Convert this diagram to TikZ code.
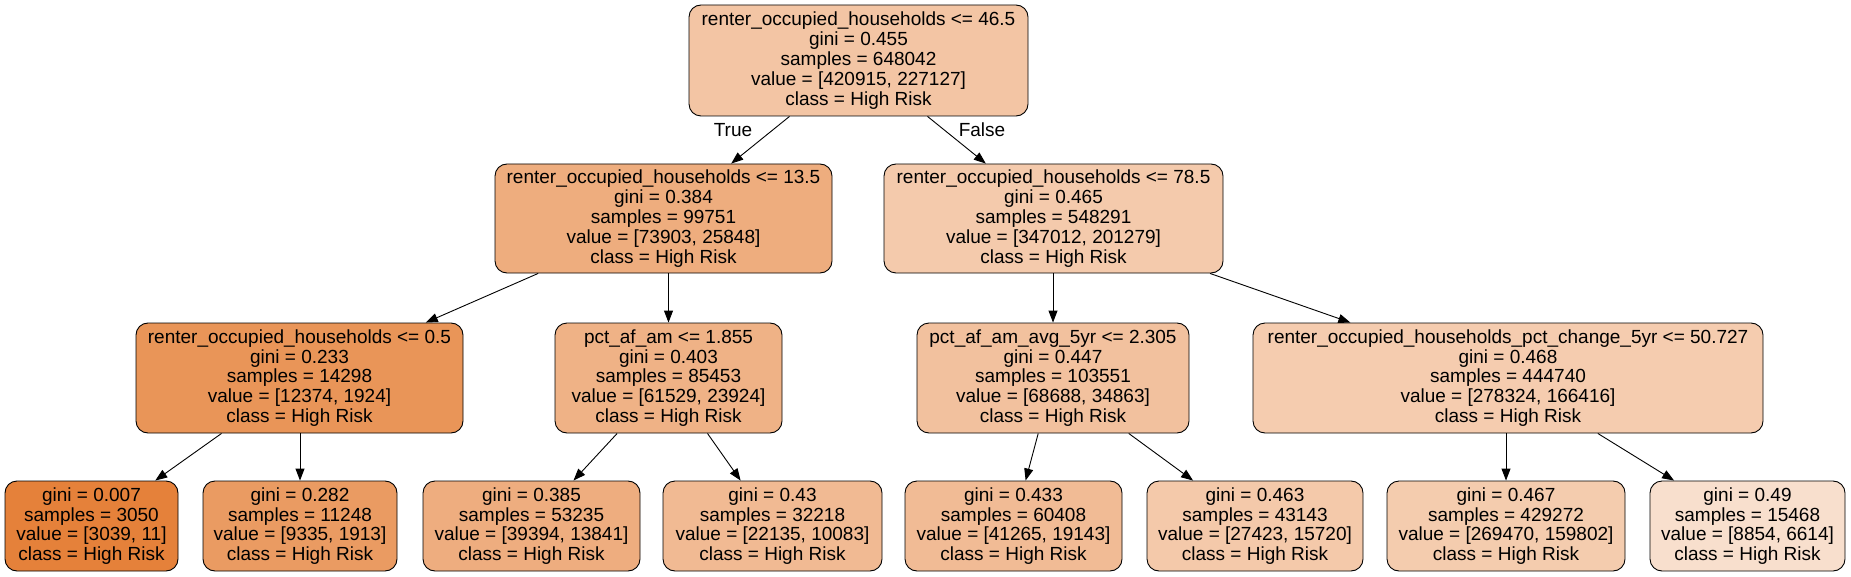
\documentclass[tikz,border=0pt]{standalone}
\usepackage{fontspec}
\setmainfont{Liberation Sans}
\usetikzlibrary{arrows.meta}
\definecolor{rootc}{HTML}{F3C5A4}
\definecolor{lc}{HTML}{EEAD7E}
\definecolor{rc}{HTML}{F4CAAC}
\definecolor{llc}{HTML}{E99558}
\definecolor{lrc}{HTML}{EFB286}
\definecolor{rlc}{HTML}{F2C19E}
\definecolor{rrc}{HTML}{F5CCAF}
\definecolor{lllc}{HTML}{E5813A}
\definecolor{llrc}{HTML}{EA9B62}
\definecolor{lrlc}{HTML}{EEAD7F}
\definecolor{lrrc}{HTML}{F1BA93}
\definecolor{rllc}{HTML}{F1BB95}
\definecolor{rlrc}{HTML}{F4C9AA}
\definecolor{rrlc}{HTML}{F4CCAE}
\definecolor{rrrc}{HTML}{F8DFCD}

\begin{document}
\begin{tikzpicture}[
  x=1pt, y=-1pt,
  box/.style={draw, rounded corners=12pt, line width=0.9pt, align=center, inner sep=0pt, font=\fontsize{19}{19.8}\selectfont, minimum height=110pt},
  leaf/.style={box, minimum height=90pt},
  edgelabel/.style={font=\fontsize{19}{19.8}\selectfont, inner sep=0pt},
  arrow/.style={-{Triangle[length=12pt,width=9pt]}, line width=0.9pt}
]
\useasboundingbox (0,0) rectangle (1851,577);
\node[box, fill=rootc, minimum width=339pt, minimum height=111pt] (root) at (858.5,60.5) {renter\_occupied\_households <= 46.5\\gini = 0.455\\samples = 648042\\value = [420915, 227127]\\class = High Risk};
\node[box, fill=lc, minimum width=337pt, minimum height=109pt] (l) at (663.5,218.5) {renter\_occupied\_households <= 13.5\\gini = 0.384\\samples = 99751\\value = [73903, 25848]\\class = High Risk};
\node[box, fill=rc, minimum width=339pt, minimum height=109pt] (r) at (1053.5,218.5) {renter\_occupied\_households <= 78.5\\gini = 0.465\\samples = 548291\\value = [347012, 201279]\\class = High Risk};
\node[box, fill=llc, minimum width=327pt] (ll) at (299.5,378) {renter\_occupied\_households <= 0.5\\gini = 0.233\\samples = 14298\\value = [12374, 1924]\\class = High Risk};
\node[box, fill=lrc, minimum width=227pt] (lr) at (668.5,378) {pct\_af\_am <= 1.855\\gini = 0.403\\samples = 85453\\value = [61529, 23924]\\class = High Risk};
\node[box, fill=rlc, minimum width=272pt] (rl) at (1053,378) {pct\_af\_am\_avg\_5yr <= 2.305\\gini = 0.447\\samples = 103551\\value = [68688, 34863]\\class = High Risk};
\node[box, fill=rrc, minimum width=510pt] (rr) at (1508,378) {renter\_occupied\_households\_pct\_change\_5yr <= 50.727\\gini = 0.468\\samples = 444740\\value = [278324, 166416]\\class = High Risk};
% leaves
\node[leaf, fill=lllc, minimum width=173pt] (lll) at (91.5,526) {gini = 0.007\\samples = 3050\\value = [3039, 11]\\class = High Risk};
\node[leaf, fill=llrc, minimum width=194pt] (llr) at (300,526) {gini = 0.282\\samples = 11248\\value = [9335, 1913]\\class = High Risk};
\node[leaf, fill=lrlc, minimum width=217pt] (lrl) at (531.5,526) {gini = 0.385\\samples = 53235\\value = [39394, 13841]\\class = High Risk};
\node[leaf, fill=lrrc, minimum width=219pt] (lrr) at (772.5,526) {gini = 0.43\\samples = 32218\\value = [22135, 10083]\\class = High Risk};
\node[leaf, fill=rllc, minimum width=217pt] (rll) at (1013.5,526) {gini = 0.433\\samples = 60408\\value = [41265, 19143]\\class = High Risk};
\node[leaf, fill=rlrc, minimum width=216pt] (rlr) at (1255,526) {gini = 0.463\\samples = 43143\\value = [27423, 15720]\\class = High Risk};
\node[leaf, fill=rrlc, minimum width=238pt] (rrl) at (1506,526) {gini = 0.467\\samples = 429272\\value = [269470, 159802]\\class = High Risk};
\node[leaf, fill=rrrc, minimum width=195pt] (rrr) at (1747.5,526) {gini = 0.49\\samples = 15468\\value = [8854, 6614]\\class = High Risk};
\node[edgelabel] (truelabel) at (733,130) {True};
\node[edgelabel] (falselabel) at (982,130) {False};
\draw[arrow] (root) -- (l);
\draw[arrow] (root) -- (r);
\draw[arrow] (l) -- (ll);
\draw[arrow] (l.south -| lr) -- (lr);
\draw[arrow] (r.south -| rl) -- (rl);
\draw[arrow] (r) -- (rr);
\draw[arrow] (ll) -- (lll);
\draw[arrow] (ll.south -| llr) -- (llr);
\draw[arrow] (lr) -- (lrl);
\draw[arrow] (lr) -- (lrr);
\draw[arrow] (rl) -- (rll);
\draw[arrow] (rl) -- (rlr);
\draw[arrow] (rr.south -| rrl) -- (rrl);
\draw[arrow] (rr) -- (rrr);
\end{tikzpicture}
\end{document}
